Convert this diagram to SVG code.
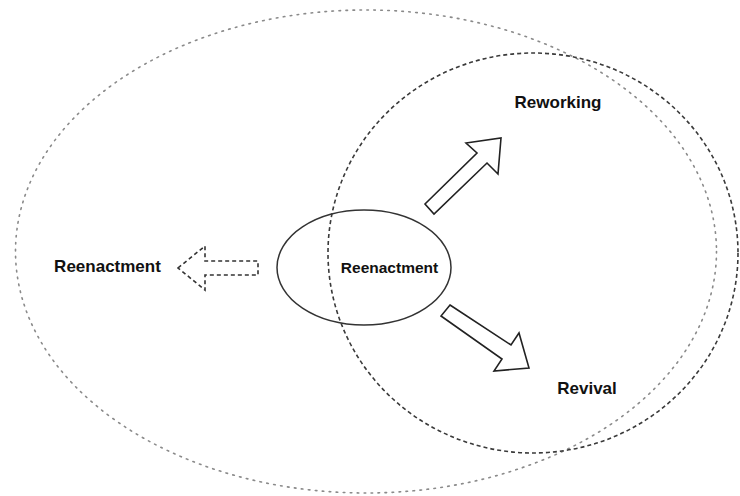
<svg xmlns="http://www.w3.org/2000/svg" width="740" height="496" viewBox="0 0 740 496">
  <style>
    .lbl { font-family: "Liberation Sans", Arial, sans-serif; font-weight: bold; fill: #111; text-anchor: middle; }
    .big { font-size: 17px; }
    .mid { font-size: 15.5px; }
    .dotted { fill: none; stroke: #8a8a8a; stroke-width: 1.6; stroke-dasharray: 1.6 5.4; stroke-linecap: round; }
    .dashed { fill: none; stroke: #3a3a3a; stroke-width: 1.6; stroke-dasharray: 4 3; }
    .solid { fill: none; stroke: #333; stroke-width: 1.5; }
    .arrow { fill: #fff; stroke: #222; stroke-width: 1.6; stroke-linejoin: miter; }
    .arrow-dashed { fill: #fff; stroke: #333; stroke-width: 1.6; stroke-dasharray: 4 3; }
  </style>
  <rect width="740" height="496" fill="#fff"/>
  <g id="outer-field">
    <ellipse class="dotted" cx="366" cy="251.5" rx="350.5" ry="241.5"/>
  </g>
  <g id="center-node">
    <ellipse class="solid" cx="364" cy="267.5" rx="87" ry="57.5"/>
    <text class="lbl mid" x="389.5" y="272.5">Reenactment</text>
  </g>
  <g id="right-field">
    <ellipse class="dashed" cx="533" cy="253" rx="205" ry="200"/>
  </g>
  <g id="left-label">
    <text class="lbl big" x="107.5" y="272">Reenactment</text>
  </g>
  <g id="reworking-label">
    <text class="lbl big" x="558" y="108">Reworking</text>
  </g>
  <g id="revival-label">
    <text class="lbl big" x="587" y="394">Revival</text>
  </g>
  <g id="connectors">
    <polygon class="arrow-dashed" points="178,268 205,246 205,261 258,261 258,275 205,275 205,290"/>
    <polygon class="arrow" points="501,138 498,174 487,163 434,214 425,204 477,153 466,143"/>
    <polygon class="arrow" points="450,305 511,345 519,333 529,368 494,371 502,359 441,316"/>
  </g>
</svg>
